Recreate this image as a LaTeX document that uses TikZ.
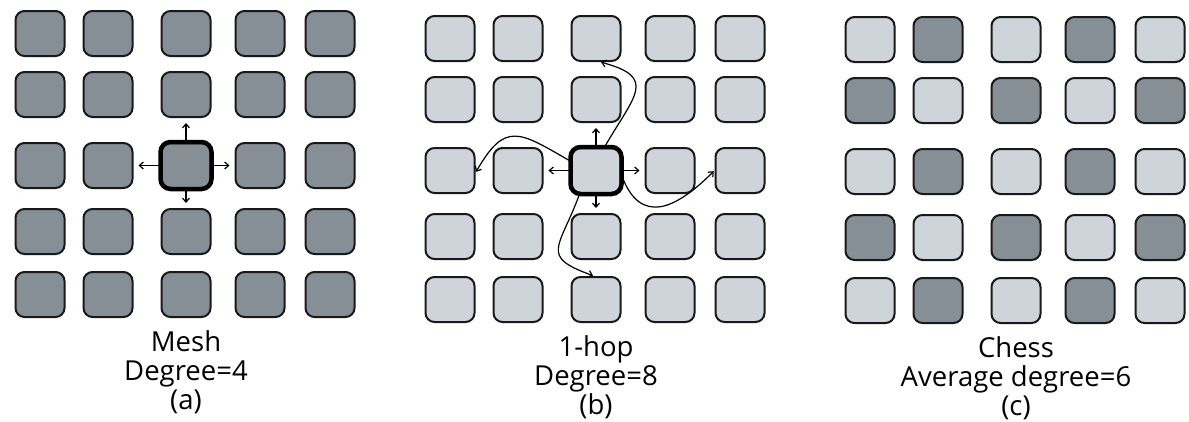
\documentclass[tikz,border=0pt]{standalone}
\usepackage{fontspec}
\setmainfont{Open Sans}
\usetikzlibrary{arrows.meta,positioning}
\definecolor{darkcell}{HTML}{868E96}
\definecolor{lightcell}{HTML}{CED4DA}
\tikzset{
  cell/.style={draw=black!90, line width=2pt, rounded corners=9pt, minimum width=49pt, minimum height=45pt, inner sep=0pt},
  tone0/.style={fill=lightcell},
  tone1/.style={fill=darkcell},
  hop/.style={-{Straight Barb[length=4pt,width=7pt]}, line width=1.2pt, shorten >=5pt},
  far/.style={hop, shorten >=1pt, looseness=1.4},
  caption/.style={align=center, inner sep=0pt, font=\fontsize{27.5}{29}\selectfont}
}
\begin{document}
\begin{tikzpicture}[x=1pt,y=-1pt]
\useasboundingbox (0,0) rectangle (1189,421);
\foreach \y [count=\r] in {0,61,132,198,261}
  \foreach \x [count=\c] in {0,68,146,220,290} {
    \pgfmathtruncatemacro\k{mod(\r+\c,2)}
    \node[cell, tone1] (a\r\c) at (40+\x,33.5+\y) {};
    \node[cell, tone0] (b\r\c) at (450+\x,38.5+\y) {};
    \node[cell, tone\k] (c\r\c) at (870+\x,39.5+\y) {};
  }
\draw[line width=4.5pt, rounded corners=10pt] (a33.south west) rectangle (a33.north east);
\foreach \n in {23,32,34,43} \draw[hop] (a33) -- (a\n);
\draw[line width=4.5pt, rounded corners=10pt] (b33.south west) rectangle (b33.north east);
\foreach \n in {23,32,34,43} \draw[hop] (b33) -- (b\n);
\draw[far, looseness=1.8] (b33.70) to[out=60,in=-15] (b13.-80);
\draw[far, looseness=1.6] (b33.160) to[out=150,in=60] (b31.-5);
\draw[far, looseness=1.5] (b33.-10) to[out=-70,in=-135] (b35.west);
\draw[far, looseness=1.8] (b33.-125) to[out=-110,in=160] (b53.95);
\node[caption, below=12pt of a53] (alab) {Mesh\\Degree=4\\(a)};
\node[caption, below=12pt of b53] (blab) {1-hop\\Degree=8\\(b)};
\node[caption, below=12pt of c53] (clab) {Chess\\Average degree=6\\(c)};
\end{tikzpicture}
\end{document}
